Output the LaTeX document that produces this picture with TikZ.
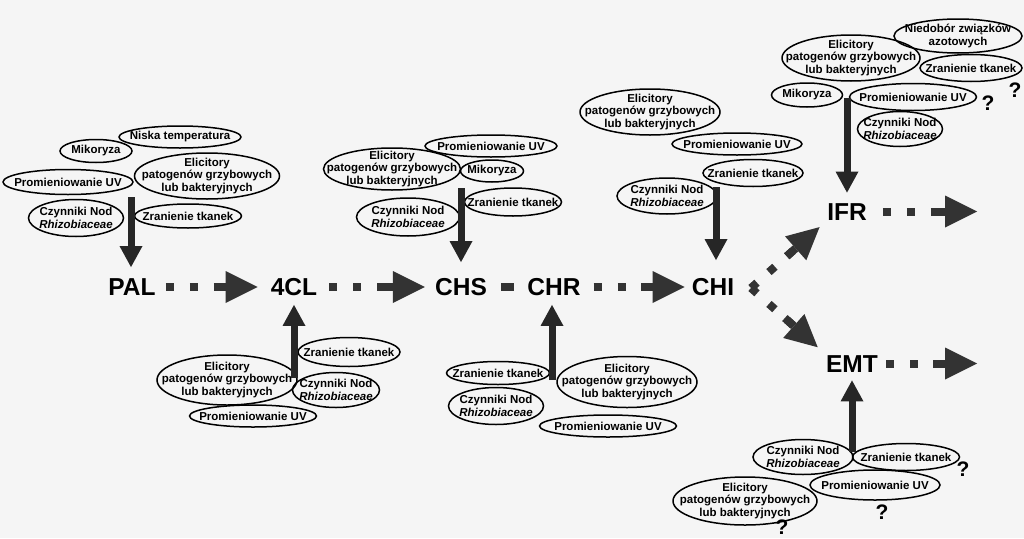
\documentclass[tikz,border=0pt]{standalone}
\usepackage{fontspec}
\setmainfont{Liberation Sans}
\usetikzlibrary{shapes.geometric, arrows.meta}
\newcommand{\cuefont}{\fontsize{11.5}{12.5}\selectfont\bfseries}
\newcommand{\enzfont}{\fontsize{24.5}{26}\selectfont\bfseries}
\newcommand{\qmfont}{\fontsize{21}{21}\selectfont\bfseries}

\begin{document}
\begin{tikzpicture}[
    x=1pt, y=-1pt,
    cue/.style={ellipse, draw, line width=1.5pt, inner xsep=-20pt, inner ysep=-6pt, align=center, font=\cuefont},
    sz/.style 2 args={minimum width=#1pt, minimum height=#2pt},
    enz/.style={inner sep=0pt, text height=17.5pt, text depth=0pt, font=\enzfont},
    push/.style={line width=7pt, black!85, -{Triangle[length=21pt,width=23pt,line width=0pt]}},
    flow/.style={line width=8pt, black!80, dash pattern=on 8pt off 16pt, -{Rectangle[length=12pt,width=8pt,sep=0pt,line width=0pt]Triangle[length=32pt,width=32pt,sep=0pt,line width=0pt]}},
    qm/.style={font=\qmfont, inner sep=0pt}
]
    \fill[black!4] (0,0) rectangle (1024,538);
    \useasboundingbox (0,0) rectangle (1024,538);

    % enzymes
    \node[enz] (PAL) at (132,287) {PAL};
    \node[enz] (fourcl) at (294,287) {4CL};
    \node[enz] (CHS) at (461,287) {CHS};
    \node[enz] (CHR) at (554,287) {CHR};
    \node[enz] (CHI) at (713,287) {CHI};
    \node[enz] (IFR) at (847,211.5) {IFR};
    \node[enz] (EMT) at (852,363.5) {EMT};

    % PAL
    \node[cue, sz={122}{22}] (palNisk) at (180,137) {Niska temperatura};
    \node[cue, sz={72}{23}] (palMik) at (96,151) {Mikoryza};
    \node[cue, sz={145}{46}] (palEli) at (207,176) {Elicitory\\patogenów grzybowych\\lub bakteryjnych};
    \node[cue, sz={130}{25}] (palUV) at (68,182) {Promieniowanie UV};
    \node[cue, sz={95}{37}] (palNod) at (76,218) {Czynniki Nod\\\textit{Rhizobiaceae}};
    \node[cue, sz={107}{24}] (palZran) at (188,216) {Zranienie tkanek};

    % CHS
    \node[cue, sz={132}{22}] (chsUV) at (491,146) {Promieniowanie UV};
    \node[cue, sz={137}{42}] (chsEli) at (392,169) {Elicitory\\patogenów grzybowych\\lub bakteryjnych};
    \node[cue, sz={63}{22}] (chsMik) at (492,171) {Mikoryza};
    \node[cue, sz={97}{28}] (chsZran) at (513,202) {Zranienie tkanek};
    \node[cue, sz={103}{38}] (chsNod) at (408,217) {Czynniki Nod\\\textit{Rhizobiaceae}};

    % CHI
    \node[cue, sz={140}{46}] (chiEli) at (650,112) {Elicitory\\patogenów grzybowych\\lub bakteryjnych};
    \node[cue, sz={130}{22}] (chiUV) at (737,144) {Promieniowanie UV};
    \node[cue, sz={100}{27}] (chiZran) at (753,173) {Zranienie tkanek};
    \node[cue, sz={100}{36}] (chiNod) at (667,196) {Czynniki Nod\\\textit{Rhizobiaceae}};

    % IFR
    \node[cue, sz={128}{34}] (ifrNied) at (958,36) {Niedobór związków\\azotowych};
    \node[cue, sz={138}{46}] (ifrEli) at (851,58) {Elicitory\\patogenów grzybowych\\lub bakteryjnych};
    \node[cue, sz={102}{27}] (ifrZran) at (971,68) {Zranienie tkanek};
    \node[cue, sz={71}{24}] (ifrMik) at (807,95) {Mikoryza};
    \node[cue, sz={127}{27}] (ifrUV) at (913,97) {Promieniowanie UV};
    \node[cue, sz={85}{35}] (ifrNod) at (900,129) {Czynniki Nod\\\textit{Rhizobiaceae}};
    \node[qm] (ifrQa) at (1015,90) {?};
    \node[qm] (ifrQb) at (988,103) {?};

    % 4CL
    \node[cue, sz={102}{29}] (fclZran) at (349,352) {Zranienie tkanek};
    \node[cue, sz={140}{50}] (fclEli) at (227,380) {Elicitory\\patogenów grzybowych\\lub bakteryjnych};
    \node[cue, sz={87}{35}] (fclNod) at (336,390) {Czynniki Nod\\\textit{Rhizobiaceae}};
    \node[cue, sz={127}{22}] (fclUV) at (253,416) {Promieniowanie UV};

    % CHR
    \node[cue, sz={103}{23}] (chrZran) at (498,373) {Zranienie tkanek};
    \node[cue, sz={140}{51}] (chrEli) at (627,382) {Elicitory\\patogenów grzybowych\\lub bakteryjnych};
    \node[cue, sz={95}{37}] (chrNod) at (496,406) {Czynniki Nod\\\textit{Rhizobiaceae}};
    \node[cue, sz={137}{22}] (chrUV) at (608,426) {Promieniowanie UV};

    % EMT
    \node[cue, sz={100}{35}] (emtNod) at (803,457) {Czynniki Nod\\\textit{Rhizobiaceae}};
    \node[cue, sz={107}{27}] (emtZran) at (906,457) {Zranienie tkanek};
    \node[cue, sz={144}{48}] (emtEli) at (745,501) {Elicitory\\patogenów grzybowych\\lub bakteryjnych};
    \node[cue, sz={130}{30}] (emtUV) at (875,485) {Promieniowanie UV};
    \node[qm] (emtQa) at (963,469) {?};
    \node[qm] (emtQb) at (882,512) {?};
    \node[qm] (emtQc) at (782,527) {?};

    % inducing arrows
    \coordinate (palIn) at (131,197);
    \coordinate (chsIn) at (461,188);
    \coordinate (chiIn) at (716,187);
    \coordinate (ifrIn) at (847,98);
    \coordinate (fclIn) at (294,378);
    \coordinate (chrIn) at (552,380);
    \coordinate (emtIn) at (852,452);
    \draw[push, shorten >=11pt] (palIn) -- (palIn |- PAL.north);
    \draw[push, shorten >=16pt] (chsIn) -- (chsIn |- CHS.north);
    \draw[push, shorten >=18pt] (chiIn) -- (chiIn |- CHI.north);
    \draw[push, shorten >=10pt] (ifrIn) -- (ifrIn |- IFR.north);
    \draw[push, shorten >=9pt] (fclIn) -- (fclIn |- fourcl.south);
    \draw[push, shorten >=9pt] (chrIn) -- (chrIn |- CHR.south);
    \draw[push, shorten >=8pt] (emtIn) -- (emtIn |- EMT.south);

    % pathway
    \draw[flow, shorten <=10pt, shorten >=13pt] (PAL) -- (fourcl);
    \draw[flow, shorten <=12pt, shorten >=10pt] (fourcl) -- (CHS);
    \draw[line width=8pt, black!80, shorten <=14pt, shorten >=13pt] (CHS) -- (CHR);
    \draw[flow, shorten <=13pt, shorten >=7pt] (CHR) -- (CHI);
    \coordinate (fork) at (751,288);
    \draw[flow, shorten >=10pt] (fork) -- (IFR.south west);
    \draw[flow, shorten >=11pt] (fork) -- (EMT.north west);
    \coordinate (ifrOut) at (977,211.5);
    \coordinate (emtOut) at (977,363.5);
    \draw[flow, shorten <=16pt] (IFR) -- (ifrOut);
    \draw[flow, shorten <=8pt] (EMT) -- (emtOut);
\end{tikzpicture}
\end{document}
